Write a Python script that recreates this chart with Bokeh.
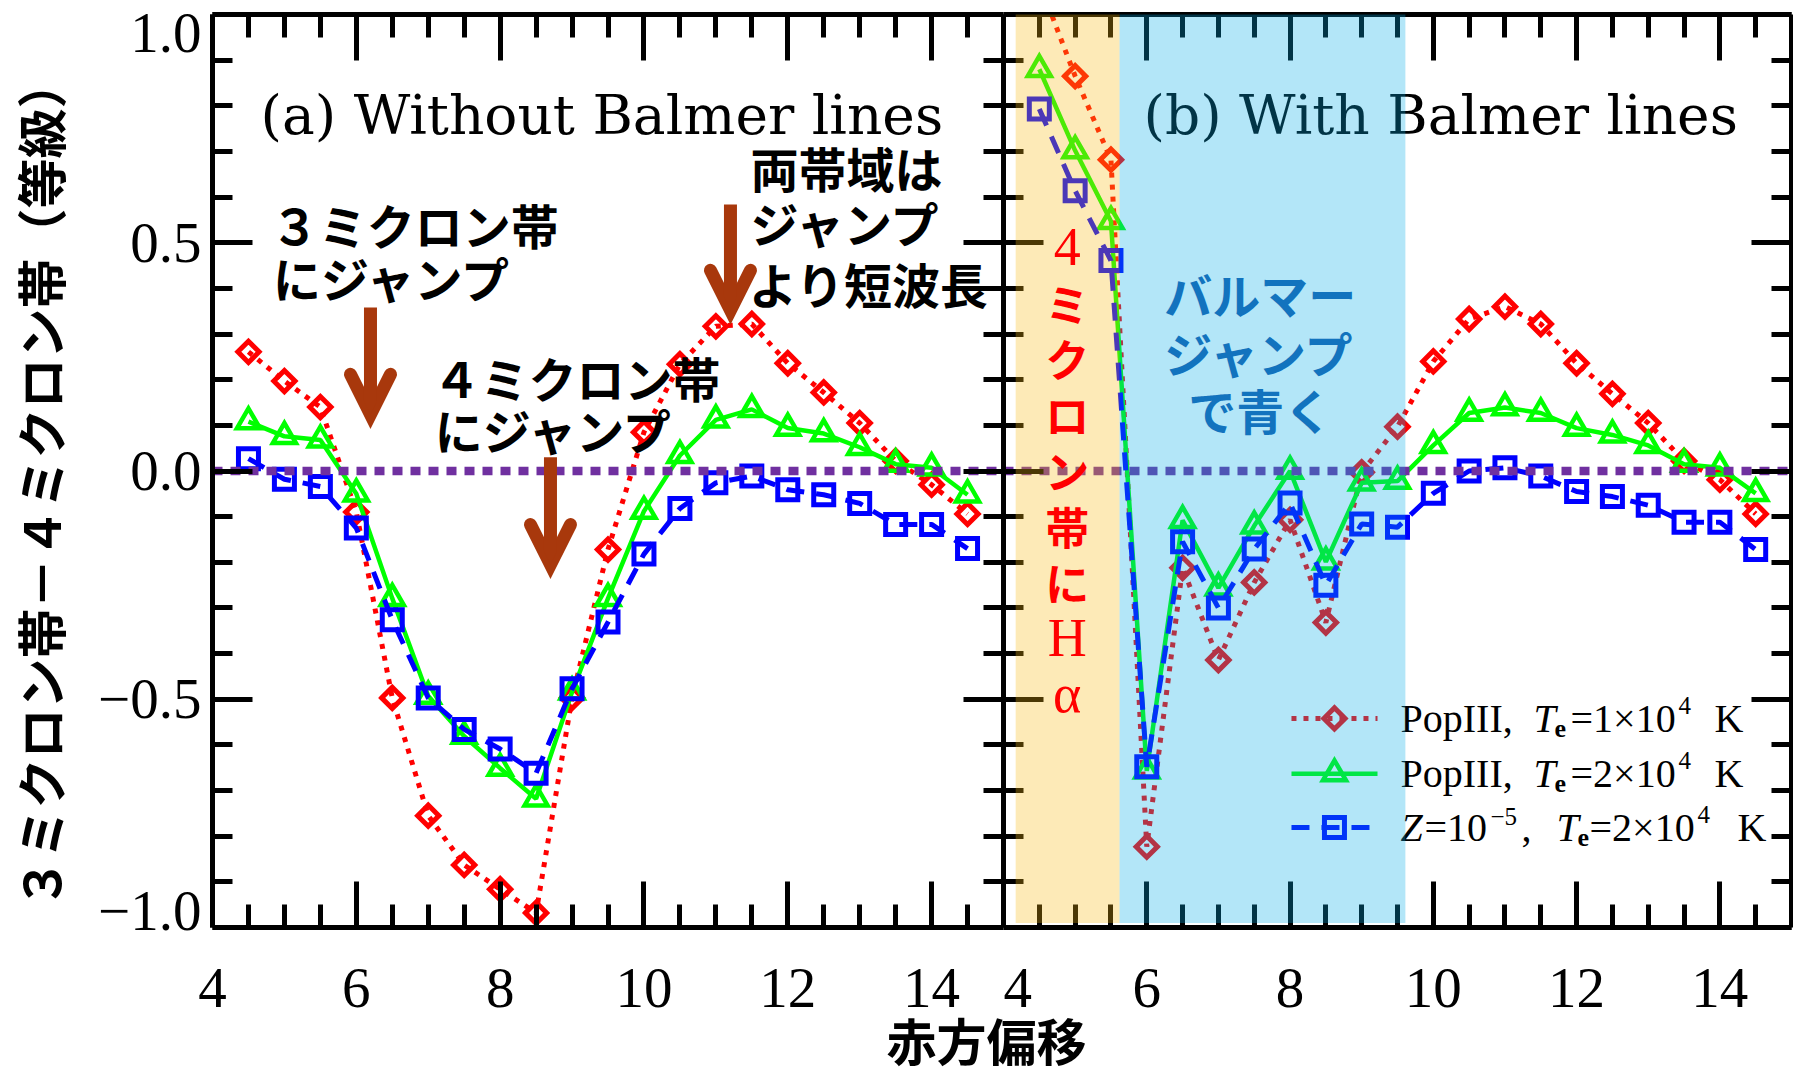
import math
from bokeh.plotting import figure
from bokeh.models import (LinearAxis, FixedTicker, CustomJSTickFormatter, BoxAnnotation,
                          Arrow, OpenHead, Range1d, Span, CustomLabelingPolicy)
from bokeh.layouts import row, column
from bokeh.core.properties import value
from bokeh.embed import file_html
from bokeh.resources import INLINE

# ---------------- data ----------------
redshift = [4.5, 5.0, 5.5, 6.0, 6.5, 7.0, 7.5, 8.0, 8.5, 9.0, 9.5,
            10.0, 10.5, 11.0, 11.5, 12.0, 12.5, 13.0, 13.5, 14.0, 14.5]

# (a) Without Balmer lines
a_pop3_te1 = [0.261, 0.197, 0.140, -0.090, -0.497, -0.755, -0.863, -0.916, -0.968, -0.497, -0.172,
              0.085, 0.234, 0.317, 0.322, 0.236, 0.172, 0.105, 0.022, -0.030, -0.094]
a_pop3_te2 = [0.108, 0.076, 0.068, -0.050, -0.279, -0.493, -0.581, -0.651, -0.718, -0.484, -0.279,
              -0.088, 0.034, 0.112, 0.135, 0.094, 0.082, 0.052, 0.015, 0.007, -0.052]
a_z5_te2 = [0.027, -0.018, -0.034, -0.125, -0.326, -0.497, -0.566, -0.609, -0.662, -0.477, -0.331,
            -0.182, -0.082, -0.026, -0.011, -0.041, -0.052, -0.071, -0.117, -0.117, -0.170]

# (b) With Balmer lines
b_pop3_te1 = [1.07, 0.865, 0.682, -0.823, -0.212, -0.414, -0.244, -0.107, -0.332, -0.003, 0.097,
              0.240, 0.333, 0.360, 0.322, 0.236, 0.169, 0.105, 0.022, -0.019, -0.094]
b_pop3_te2 = [0.880, 0.702, 0.547, -0.657, -0.108, -0.256, -0.120, 0.000, -0.199, -0.026, -0.022,
              0.056, 0.127, 0.139, 0.127, 0.094, 0.079, 0.056, 0.015, 0.007, -0.049]
b_z5_te2 = [0.793, 0.614, 0.461, -0.648, -0.155, -0.300, -0.171, -0.070, -0.250, -0.116, -0.123,
            -0.049, 0.000, 0.007, -0.011, -0.045, -0.056, -0.075, -0.112, -0.112, -0.172]

# shaded redshift bands in (b): Halpha in 4 micron band, Balmer jump
band_halpha = [4.17, 5.62]
band_balmer = [5.62, 9.61]
zero_level = 0.0

x_major = [4, 6, 8, 10, 12, 14]
x_minor = [4.5, 5, 5.5, 6.5, 7, 7.5, 8.5, 9, 9.5, 10.5, 11, 11.5, 12.5, 13, 13.5, 14.5]
y_major = [-1.0, -0.5, 0.0, 0.5, 1.0]
y_minor = [-0.9, -0.8, -0.7, -0.6, -0.4, -0.3, -0.2, -0.1,
           0.1, 0.2, 0.3, 0.4, 0.6, 0.7, 0.8, 0.9]
# y tick-label anchors: the end labels sit just inside the frame, as in the original
y_label_at = [-0.963, -0.5, 0.0, 0.5, 0.9606]

# ---------------- styles ----------------
RED = "#FF0000"
GREEN = "#00FF00"
BLUE = "#0000FF"
PURPLE = "#7030A0"
BROWN = "#A8380C"
SERIF = "Liberation Serif"
TSERIF = "DejaVu Serif"
CJK = "Noto Sans CJK JP"
TICK_FS = "57px"

FRAME_H = 913
TOP_B = 14
BOT_B = 104

NO_LABELS = CustomLabelingPolicy(
    code="for (const i of Array.from(indices)) { indices.unset(i) } return indices")


def make_panel(frame_w, border_l, border_r):
    p = figure(frame_width=frame_w, frame_height=FRAME_H,
               x_range=Range1d(4, 15), y_range=Range1d(-1, 1),
               x_axis_type=None, y_axis_type=None,
               min_border_left=border_l, min_border_right=border_r,
               min_border_top=TOP_B, min_border_bottom=BOT_B,
               toolbar_location=None, output_backend="svg")
    p.outline_line_color = None
    p.background_fill_color = "white"
    p.border_fill_color = "white"
    return p


def add_axis(p, side, labels):
    if side in ("below", "above"):
        ticker = FixedTicker(ticks=x_major, minor_ticks=x_minor)
        tin, tmin = 46, 23
    else:
        ticker = FixedTicker(ticks=y_major, minor_ticks=y_minor)
        tin, tmin = 40, 20
    ax = LinearAxis(ticker=ticker)
    ax.axis_line_width = 5
    ax.axis_line_color = "black"
    ax.major_tick_in = tin
    ax.major_tick_out = 0
    ax.minor_tick_in = tmin
    ax.minor_tick_out = 0
    ax.major_tick_line_width = 5
    ax.minor_tick_line_width = 5
    ax.major_tick_line_color = "black"
    ax.minor_tick_line_color = "black"
    if labels:
        ax.major_label_text_font = SERIF
        ax.major_label_text_font_size = TICK_FS
        ax.major_label_text_color = "black"
        ax.formatter = CustomJSTickFormatter(code="return tick.toFixed(0);")
        ax.major_label_standoff = 41
    else:
        ax.major_label_policy = NO_LABELS
        ax.major_label_text_font_size = "0px"
        ax.major_label_standoff = 0
    p.add_layout(ax, side)
    return ax


def draw_series(p, pop1, pop2, z5):
    p.line(redshift, pop1, line_color=RED, line_width=5, line_dash="5 7")
    p.scatter(redshift, pop1, marker="square", angle=math.pi / 4, size=15,
              fill_color=None, line_color=RED, line_width=5, line_join="miter")
    p.line(redshift, pop2, line_color=GREEN, line_width=4.5)
    p.scatter(redshift, pop2, marker="triangle", size=23,
              fill_color=None, line_color=GREEN, line_width=4.5, line_join="miter")
    p.line(redshift, z5, line_color=BLUE, line_width=5, line_dash="18 12")
    p.scatter(redshift, z5, marker="square", size=20,
              fill_color=None, line_color=BLUE, line_width=5, line_join="miter")
    p.add_layout(Span(location=zero_level, dimension="width", line_color=PURPLE,
                      line_width=8.5, line_dash="10 8", level="glyph"))


def txt(p, x, y, s, font, size, color="black", style="normal", align="left",
        baseline="middle", level="glyph"):
    p.text(x=[x], y=[y], text=[s], text_font=value(font), text_font_size=value(size),
           text_color=color, text_font_style=style, text_align=align,
           text_baseline=baseline, level=level)


# ---------------- panel (a) ----------------
p1 = make_panel(791, 206, 0)
add_axis(p1, "below", True)
add_axis(p1, "above", False)
add_axis(p1, "left", False)          # axis line and ticks
add_axis(p1, "right", False)

# tick labels + axis title of the left axis
ylab = LinearAxis(ticker=FixedTicker(ticks=y_label_at, minor_ticks=[]))
ylab.axis_line_color = None
ylab.major_tick_line_color = None
ylab.minor_tick_line_color = None
ylab.major_tick_in = 0
ylab.major_tick_out = 0
ylab.minor_tick_in = 0
ylab.minor_tick_out = 0
ylab.formatter = CustomJSTickFormatter(
    code="if (tick > 0.9) { return '1.0'; } if (tick < -0.9) { return '\u22121.0'; } "
         "return (tick < 0 ? '\u2212' : '') + Math.abs(tick).toFixed(1);")
ylab.major_label_text_font = SERIF
ylab.major_label_text_font_size = TICK_FS
ylab.major_label_text_color = "black"
ylab.major_label_standoff = 11
ylab.axis_label = "３ミクロン帯－４ミクロン帯（等級）\u3000"
ylab.axis_label_text_font = CJK
ylab.axis_label_text_font_style = "bold"
ylab.axis_label_text_font_size = "50px"
ylab.axis_label_text_color = "black"
ylab.axis_label_standoff = 20
p1.add_layout(ylab, "left")

draw_series(p1, a_pop3_te1, a_pop3_te2, a_z5_te2)

txt(p1, 4.667, 0.780, "(a) Without Balmer lines", TSERIF, "55px")
txt(p1, 4.81, 0.540, "３ミクロン帯", CJK, "48px", style="bold")
txt(p1, 4.84, 0.424, "にジャンプ", CJK, "48px", style="bold")
txt(p1, 7.06, 0.205, "４ミクロン帯", CJK, "48px", style="bold")
txt(p1, 7.09, 0.091, "にジャンプ", CJK, "48px", style="bold")
txt(p1, 11.48, 0.665, "両帯域は", CJK, "48px", style="bold")
txt(p1, 11.48, 0.545, "ジャンプ", CJK, "48px", style="bold")
txt(p1, 11.46, 0.411, "より短波長", CJK, "48px", style="bold")

for xa, ys, ye in [(6.197, 0.358, 0.124), (8.700, 0.030, -0.205), (11.203, 0.584, 0.352)]:
    p1.add_layout(Arrow(x_start=xa, y_start=ys, x_end=xa, y_end=ye,
                        line_color=BROWN, line_width=13,
                        end=OpenHead(size=40, line_color=BROWN, line_width=13,
                                     line_cap="round", line_join="miter")))

# ---------------- panel (b) ----------------
p2 = make_panel(788, 0, 2)
add_axis(p2, "below", True)
add_axis(p2, "above", False)
add_axis(p2, "left", False)
add_axis(p2, "right", False)

draw_series(p2, b_pop3_te1, b_pop3_te2, b_z5_te2)

txt(p2, 5.954, 0.780, "(b) With Balmer lines", TSERIF, "55px")

# legend (drawn by hand so the label can carry italics, sub- and superscripts)
leg_line = [8.02, 9.221]
leg_mark = 8.62
leg_x = 9.542
leg_y = [-0.542, -0.663, -0.781]
p2.line(leg_line, [leg_y[0]] * 2, line_color=RED, line_width=5, line_dash="5 7")
p2.scatter([leg_mark], [leg_y[0]], marker="square", angle=math.pi / 4, size=15,
           fill_color=None, line_color=RED, line_width=5, line_join="miter")
p2.line(leg_line, [leg_y[1]] * 2, line_color=GREEN, line_width=4.5)
p2.scatter([leg_mark], [leg_y[1]], marker="triangle", size=23,
           fill_color=None, line_color=GREEN, line_width=4.5, line_join="miter")
p2.line(leg_line, [leg_y[2]] * 2, line_color=BLUE, line_width=5, line_dash="18 12")
p2.scatter([leg_mark], [leg_y[2]], marker="square", size=20,
           fill_color=None, line_color=BLUE, line_width=5, line_join="miter")

LFS = "40px"
p2.text(x=[leg_x] * 10,
        y=[leg_y[0]] * 3 + [leg_y[1]] * 3 + [leg_y[2]] * 4,
        text=["PopIII,", "=1×10", "K", "PopIII,", "=2×10", "K", "=10", ",", "=2×10", "K"],
        x_offset=[0, 170, 314, 0, 170, 314, 24, 121, 189, 337],
        text_font=value(SERIF), text_font_size=value(LFS), text_color="black",
        text_align="left", text_baseline="middle")
p2.text(x=[leg_x] * 4, y=[leg_y[0], leg_y[1], leg_y[2], leg_y[2]],
        text=["T", "T", "Z", "T"], x_offset=[133, 133, 0, 156],
        text_font=value(SERIF), text_font_size=value(LFS), text_font_style="italic",
        text_color="black", text_align="left", text_baseline="middle")
p2.text(x=[leg_x] * 3, y=[leg_y[0], leg_y[1], leg_y[2]],
        text=["e", "e", "e"], x_offset=[154, 154, 177], y_offset=[10, 10, 10],
        text_font=value(SERIF), text_font_size=value("26px"), text_font_style="bold",
        text_color="black", text_align="left", text_baseline="middle")
p2.text(x=[leg_x] * 4, y=[leg_y[0], leg_y[1], leg_y[2], leg_y[2]],
        text=["4", "4", "\u22125", "4"], x_offset=[278, 278, 90, 297], y_offset=[-13, -13, -11, -13],
        text_font=value(SERIF), text_font_size=value("25px"),
        text_color="black", text_align="left", text_baseline="middle")

# shaded bands (semi-transparent, on top of data and axes)
p2.add_layout(BoxAnnotation(left=band_halpha[0], right=band_halpha[1], bottom=-0.99, top=1.03,
                            fill_color="#F8B912", fill_alpha=0.3, line_color=None))
p2.add_layout(BoxAnnotation(left=band_balmer[0], right=band_balmer[1], bottom=-0.99, top=1.03,
                            fill_color="#02ACE8", fill_alpha=0.3, line_color=None))

# annotations on top of the shading
red_col = ["4", "ミ", "ク", "ロ", "ン", "帯", "に", "H", "α"]
red_y = [0.4915 - 0.1224 * i for i in range(len(red_col))]
serif_i = [0, 7, 8]
cjk_i = [i for i in range(len(red_col)) if i not in serif_i]
p2.text(x=[4.89] * len(serif_i), y=[red_y[i] for i in serif_i], text=[red_col[i] for i in serif_i],
        text_font=value(SERIF), text_font_size=value("54px"), text_color=RED,
        text_align="center", text_baseline="middle", level="overlay")
p2.text(x=[4.89] * len(cjk_i), y=[red_y[i] for i in cjk_i], text=[red_col[i] for i in cjk_i],
        text_font=value(CJK), text_font_size=value("44px"), text_font_style="bold", text_color=RED,
        text_align="center", text_baseline="middle", level="overlay")

blue_lines = ["バルマー", "ジャンプ", "で青く"]
blue_y = [0.389, 0.261, 0.136]
p2.text(x=[7.585] * 3, y=blue_y, text=blue_lines,
        text_font=value(CJK), text_font_size=value("48px"), text_font_style="bold",
        text_color="#1273BE", text_align="center", text_baseline="middle", level="overlay")

# ---------------- x-axis title strip (pulled up under the tick labels) ----------------
STRIP_H = 71
p3 = figure(width=1788, height=STRIP_H, x_range=Range1d(0, 1788), y_range=Range1d(0, STRIP_H),
            x_axis_type=None, y_axis_type=None, toolbar_location=None, output_backend="svg",
            min_border=0)
p3.outline_line_color = None
p3.background_fill_alpha = 0
p3.border_fill_alpha = 0
p3.styles = {"margin-top": "-28px"}
p3.text(x=[986], y=[STRIP_H / 2], text=["赤方偏移"], text_font=value(CJK),
        text_font_size=value("50px"), text_font_style="bold", text_color="black",
        text_align="center", text_baseline="middle")

layout = column(row(p1, p2), p3)
open("out.html", "w").write(file_html(layout, INLINE, title="3-4 micron color vs redshift"))
